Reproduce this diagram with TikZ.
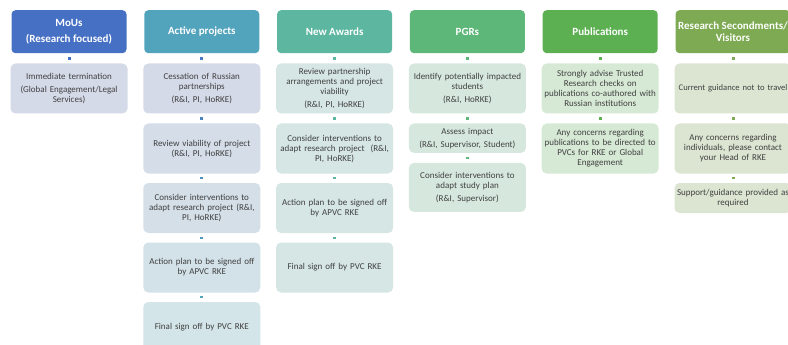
\documentclass[tikz,border=0pt]{standalone}
\usepackage{fontspec}
\setmainfont{Carlito}
\usetikzlibrary{calc}
\definecolor{mouBlue}{RGB}{70,112,196}
\definecolor{actTeal}{RGB}{82,163,188}
\definecolor{awdMint}{RGB}{92,182,160}
\definecolor{pgrGreen}{RGB}{92,183,120}
\definecolor{pubGreen}{RGB}{92,176,82}
\definecolor{visOlive}{RGB}{125,170,82}
\definecolor{mouPale}{RGB}{213,218,232}
\definecolor{actPale}{RGB}{211,229,233}
\definecolor{awdPale}{RGB}{213,230,228}
\definecolor{pgrPale}{RGB}{214,232,222}
\definecolor{pubPale}{RGB}{214,233,213}
\definecolor{visPale}{RGB}{219,229,210}
\definecolor{inkGrey}{RGB}{64,64,64}
\newcommand{\Qui}[1]{\\[3pt]#1}
\begin{document}
\begin{tikzpicture}[x=1pt,y=-1pt,
  entete/.style={rounded corners=4pt,fill=#1,text=white,font=\bfseries\fontsize{11}{12.5}\selectfont,
    minimum width=115pt,minimum height=43pt,inner sep=1pt,align=center,anchor=north},
  etape/.style={rounded corners=5pt,fill=#1,text=inkGrey,font=\fontsize{9}{10}\selectfont,
    text width=113pt,inner sep=2pt,minimum height=50pt,align=center,anchor=north},
  lien/.style={draw=#1,line width=3pt,shorten <=3.5pt,shorten >=3.5pt}]
\useasboundingbox (0,0) rectangle (788,345);
\clip (0,0) rectangle (788,345);
% headers
\node[entete=mouBlue] (h1) at (69,10) {MoUs\\[3pt](Research focused)};
\node[entete=actTeal] (h2) at (201.8,10) {Active projects};
\node[entete=awdMint] (h3) at (334.6,10) {New Awards};
\node[entete=pgrGreen] (h4) at (467.4,10) {PGRs};
\node[entete=pubGreen] (h5) at (600.2,10) {Publications};
\node[entete=visOlive] (h6) at (733,10) {Research Secondments/\\Visitors};
% MoUs
\node[etape=mouPale] (m1) at (69,63.3) {Immediate termination\Qui{(Global Engagement/Legal\\Services)}};
% active projects
\node[etape=actPale!0!mouPale] (a1) at (201.8,63.3) {Cessation of Russian\\partnerships\Qui{(R\&I, PI, HoRKE)}};
\node[etape=actPale!25!mouPale] (a2) at (201.8,123.3) {Review viability of project\\(R\&I, PI, HoRKE)};
\node[etape=actPale!50!mouPale] (a3) at (201.8,182.8) {Consider interventions to\\adapt research project (R\&I,\\PI, HoRKE)};
\node[etape=actPale!75!mouPale] (a4) at (201.8,242.3) {Action plan to be signed off\\by APVC RKE};
\node[etape=actPale] (a5) at (201.8,301.8) {Final sign off by PVC RKE};
% new awards
\node[etape=awdPale] (n1) at (334.6,63.3) {Review partnership\\arrangements and project\\viability\Qui{(R\&I, PI, HoRKE)}};
\node[etape=awdPale] (n2) at (334.6,123.3) {Consider interventions to\\adapt research project~ (R\&I,\\PI, HoRKE)};
\node[etape=awdPale] (n3) at (334.6,182.8) {Action plan to be signed off\\by APVC RKE};
\node[etape=awdPale] (n4) at (334.6,242.3) {Final sign off by PVC RKE};
% PGRs
\node[etape=pgrPale] (p1) at (467.4,63.3) {Identify potentially impacted\\students\Qui{(R\&I, HoRKE)}};
\node[etape=pgrPale,minimum height=29.4pt] (p2) at (467.4,123.3) {Assess impact\Qui{(R\&I, Supervisor, Student)}};
\node[etape=pgrPale,minimum height=49pt] (p3) at (467.4,162.7) {Consider interventions to\\adapt study plan\Qui{(R\&I, Supervisor)}};
% publications
\node[etape=pubPale] (u1) at (600.2,63.3) {Strongly advise Trusted\\Research checks on\\publications co-authored with\\Russian institutions};
\node[etape=pubPale] (u2) at (600.2,123.3) {Any concerns regarding\\publications to be directed to\\PVCs for RKE or Global\\Engagement};
% secondments / visitors
\node[etape=visPale,font=\fontsize{8.6}{10}\selectfont] (v1) at (733,63.3) {\mbox{Current guidance not to travel}};
\node[etape=visPale] (v2) at (733,123.3) {Any concerns regarding\\individuals, please contact\\your Head of RKE};
\node[etape=visPale,minimum height=30pt] (v3) at (733,182.8) {Support/guidance provided as\\required};
% links
\foreach \a/\b/\c in {h1/m1/mouBlue,h2/a1/mouBlue!80!actTeal,a1/a2/mouBlue!60!actTeal,
    a2/a3/mouBlue!40!actTeal,a3/a4/mouBlue!20!actTeal,a4/a5/actTeal,
    h3/n1/awdMint,n1/n2/awdMint,n2/n3/awdMint,n3/n4/awdMint,
    h4/p1/pgrGreen,p1/p2/pgrGreen,p2/p3/pgrGreen,h5/u1/pubGreen,u1/u2/pubGreen,
    h6/v1/visOlive,v1/v2/visOlive,v2/v3/visOlive}
  \draw[lien=\c] (\a.south) -- (\b.north);
\end{tikzpicture}
\end{document}
